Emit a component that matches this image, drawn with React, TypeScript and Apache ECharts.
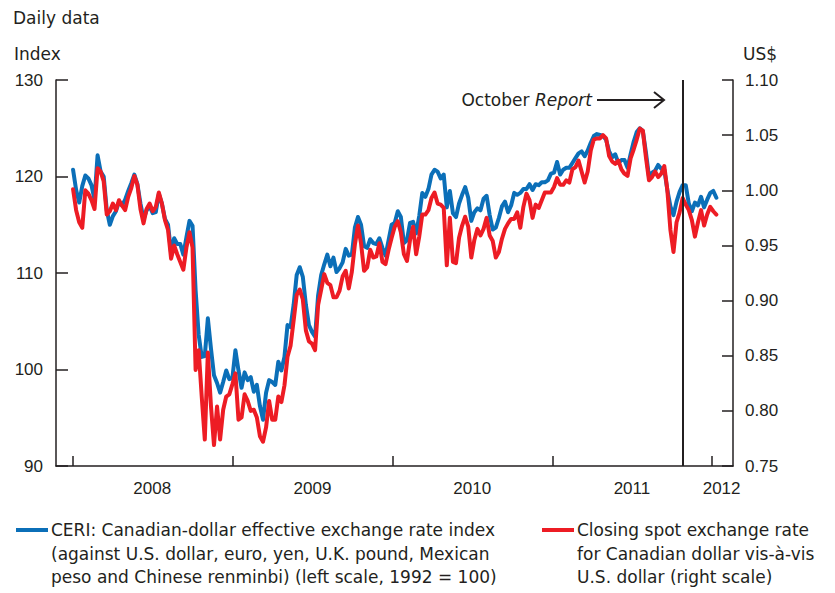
import React, { useEffect, useRef } from "react";
import * as echarts from "echarts";

// Weekly sampling dates
const dates: string[] = [
  "2008-01-02","2008-01-09","2008-01-16","2008-01-23","2008-01-30","2008-02-06","2008-02-13","2008-02-20","2008-02-27",
  "2008-03-05","2008-03-12","2008-03-19","2008-03-26","2008-04-02","2008-04-09","2008-04-16","2008-04-23","2008-04-30",
  "2008-05-07","2008-05-14","2008-05-21","2008-05-28","2008-06-04","2008-06-11","2008-06-18","2008-06-25","2008-07-02",
  "2008-07-09","2008-07-16","2008-07-23","2008-07-30","2008-08-06","2008-08-13","2008-08-20","2008-08-27","2008-09-03",
  "2008-09-10","2008-09-17","2008-09-24","2008-10-01","2008-10-08","2008-10-15","2008-10-22","2008-10-29","2008-11-05",
  "2008-11-12","2008-11-19","2008-11-26","2008-12-03","2008-12-10","2008-12-17","2008-12-24","2008-12-31",
  "2009-01-07","2009-01-14","2009-01-21","2009-01-28","2009-02-04","2009-02-11","2009-02-18","2009-02-25","2009-03-04",
  "2009-03-11","2009-03-18","2009-03-25","2009-04-01","2009-04-08","2009-04-15","2009-04-22","2009-04-29","2009-05-06",
  "2009-05-13","2009-05-20","2009-05-27","2009-06-03","2009-06-10","2009-06-17","2009-06-24","2009-07-01","2009-07-08",
  "2009-07-15","2009-07-22","2009-07-29","2009-08-05","2009-08-12","2009-08-19","2009-08-26","2009-09-02","2009-09-09",
  "2009-09-16","2009-09-23","2009-09-30","2009-10-07","2009-10-14","2009-10-21","2009-10-28","2009-11-04","2009-11-11",
  "2009-11-18","2009-11-25","2009-12-02","2009-12-09","2009-12-16","2009-12-23","2009-12-30",
  "2010-01-06","2010-01-13","2010-01-20","2010-01-27","2010-02-03","2010-02-10","2010-02-17","2010-02-24","2010-03-03",
  "2010-03-10","2010-03-17","2010-03-24","2010-03-31","2010-04-07","2010-04-14","2010-04-21","2010-04-28","2010-05-05",
  "2010-05-12","2010-05-19","2010-05-26","2010-06-02","2010-06-09","2010-06-16","2010-06-23","2010-06-30","2010-07-07",
  "2010-07-14","2010-07-21","2010-07-28","2010-08-04","2010-08-11","2010-08-18","2010-08-25","2010-09-01","2010-09-08",
  "2010-09-15","2010-09-22","2010-09-29","2010-10-06","2010-10-13","2010-10-20","2010-10-27","2010-11-03","2010-11-10",
  "2010-11-17","2010-11-24","2010-12-01","2010-12-08","2010-12-15","2010-12-22","2010-12-29",
  "2011-01-05","2011-01-12","2011-01-19","2011-01-26","2011-02-02","2011-02-09","2011-02-16","2011-02-23","2011-03-02",
  "2011-03-09","2011-03-16","2011-03-23","2011-03-30","2011-04-06","2011-04-13","2011-04-20","2011-04-27","2011-05-04",
  "2011-05-11","2011-05-18","2011-05-25","2011-06-01","2011-06-08","2011-06-15","2011-06-22","2011-06-29","2011-07-06",
  "2011-07-13","2011-07-20","2011-07-27","2011-08-03","2011-08-10","2011-08-17","2011-08-24","2011-08-31","2011-09-07",
  "2011-09-14","2011-09-21","2011-09-28","2011-10-05","2011-10-12","2011-10-19","2011-10-26","2011-11-02","2011-11-09",
  "2011-11-16","2011-11-23","2011-11-30","2011-12-07","2011-12-14","2011-12-21","2011-12-28",
  "2012-01-04","2012-01-11"
];

// CERI index (left scale, 1992 = 100)
const ceri: number[] = [
  120.7,118.6,117.3,119.0,120.1,119.8,119.1,117.6,122.2,120.5,
  120.0,116.5,115.0,115.9,116.4,117.4,117.0,117.6,118.5,119.3,
  120.2,119.2,117.2,115.6,116.5,116.9,116.2,116.3,118.2,117.2,
  115.6,115.0,112.1,113.6,113.0,113.0,111.9,113.7,115.4,114.9,
  108.2,103.6,101.3,101.4,105.3,102.2,99.4,98.6,97.6,98.7,
  99.9,99.0,99.1,102.0,99.9,98.1,99.7,98.9,99.2,97.7,
  98.4,96.2,94.8,97.6,98.9,98.7,98.4,100.8,99.9,101.3,
  104.6,104.4,106.7,109.8,110.6,109.6,106.7,104.6,103.9,103.4,
  107.7,109.8,110.9,111.9,110.7,111.6,110.1,110.5,111.1,112.5,
  111.8,111.9,114.7,115.8,115.0,112.8,112.6,113.5,113.1,113.0,
  113.6,112.6,111.8,113.4,115.0,115.2,116.4,115.8,113.1,113.4,
  115.2,115.3,114.1,115.9,118.3,117.9,118.7,120.2,120.7,120.5,
  119.8,120.2,116.8,118.5,116.2,115.8,117.2,118.1,118.9,117.8,
  115.4,116.3,116.7,116.5,117.7,118.0,116.0,114.5,114.7,115.7,
  116.9,117.4,116.3,117.0,118.3,118.1,118.3,118.7,118.7,119.2,
  118.6,119.2,119.1,119.4,119.4,119.6,120.3,120.4,121.5,120.2,
  120.7,120.9,120.9,121.4,121.9,122.4,122.6,122.1,122.7,123.5,
  124.2,124.4,124.3,124.2,123.8,122.6,122.0,122.3,121.4,121.7,
  121.7,120.9,122.3,123.6,124.6,125.0,124.7,122.5,120.0,120.4,
  120.6,121.2,120.8,120.7,118.6,116.9,116.0,117.4,118.4,119.1,
  119.1,117.2,116.4,117.3,117.0,117.9,116.8,117.6,118.3,118.5,117.8
];

// Closing spot rate, US$ per Canadian dollar (right scale)
const spot: number[] = [
  1.001,0.982,0.971,0.966,1.000,0.997,0.991,0.983,1.020,1.017,
  1.008,0.978,0.981,0.988,0.982,0.991,0.986,0.982,0.994,1.002,
  1.013,1.005,0.983,0.970,0.983,0.988,0.981,0.985,0.998,0.988,
  0.973,0.964,0.938,0.950,0.942,0.935,0.928,0.948,0.962,0.948,
  0.837,0.855,0.813,0.774,0.853,0.805,0.769,0.804,0.774,0.801,
  0.813,0.815,0.824,0.834,0.792,0.794,0.815,0.809,0.800,0.801,
  0.794,0.777,0.772,0.785,0.809,0.792,0.792,0.813,0.808,0.823,
  0.849,0.859,0.882,0.905,0.910,0.901,0.873,0.863,0.861,0.855,
  0.896,0.910,0.924,0.916,0.914,0.903,0.903,0.909,0.922,0.927,
  0.911,0.926,0.951,0.968,0.952,0.927,0.930,0.946,0.939,0.940,
  0.952,0.935,0.933,0.946,0.957,0.967,0.972,0.962,0.942,0.936,
  0.955,0.967,0.942,0.958,0.978,0.978,0.982,0.993,0.998,0.988,
  0.987,0.984,0.932,0.975,0.935,0.934,0.957,0.968,0.976,0.967,
  0.939,0.955,0.965,0.959,0.965,0.975,0.959,0.954,0.939,0.944,
  0.956,0.965,0.970,0.974,0.974,0.980,0.966,0.985,0.997,0.991,
  0.975,0.987,0.984,0.991,0.998,0.998,0.998,1.003,1.011,1.005,
  1.005,1.009,1.007,1.019,1.021,1.027,1.017,1.007,1.017,1.036,
  1.046,1.047,1.047,1.050,1.047,1.031,1.026,1.024,1.027,1.019,
  1.015,1.013,1.029,1.037,1.046,1.056,1.054,1.030,1.009,1.012,
  1.017,1.012,1.015,1.022,1.000,0.964,0.944,0.971,0.980,0.993,
  0.987,0.982,0.973,0.958,0.971,0.982,0.968,0.978,0.985,0.981,0.978
];

const yearTicks: string[] = ["2008-01-01", "2009-01-01", "2010-01-01", "2011-01-01", "2012-01-01"];
const yearLabelAt: string[] = ["2008-07-01", "2009-07-02", "2010-07-02", "2011-07-02", "2012-01-23"];
const xRange: string[] = ["2007-11-24", "2012-02-18"];
const reportDate = "2011-10-26";

const legendBlue: string[] = [
  "CERI: Canadian-dollar effective exchange rate index",
  "(against U.S. dollar, euro, yen, U.K. pound, Mexican",
  "peso and Chinese renminbi) (left scale, 1992 = 100)",
];
const legendRed: string[] = [
  "Closing spot exchange rate",
  "for Canadian dollar vis-à-vis",
  "U.S. dollar (right scale)",
];

const ts = (d: string) => Date.parse(d + "T00:00:00Z");

export default function App() {
  const ref = useRef<HTMLDivElement>(null);
  useEffect(() => {
    if (!ref.current) return;
    const chart = echarts.init(ref.current, null, { renderer: "svg" });
    const numFont = "'Liberation Sans', Arial, Helvetica, sans-serif";
    const wordFont = "'DejaVu Sans', 'Liberation Sans', Arial, sans-serif";
    const ink = "#231f20";
    const blue = "#0b6fb8";
    const red = "#ed1c24";
    const fs = 17;
    const lineY = [530, 553.5, 577];

    const txt = (text: string, x: number, y: number, align = "left") => ({
      type: "text",
      x,
      y,
      silent: true,
      style: {
        text,
        fill: ink,
        fontSize: fs,
        fontFamily: wordFont,
        textAlign: align,
        textVerticalAlign: "middle",
      },
    });

    const graphics: any[] = [
      txt("Daily data", 13, 18),
      txt("Index", 14, 54),
      txt("US$", 743, 54),
      {
        type: "text",
        x: 592,
        y: 100,
        silent: true,
        style: {
          text: "{n|October }{i|Report}",
          fill: ink,
          fontSize: fs,
          fontFamily: wordFont,
          textAlign: "right",
          textVerticalAlign: "middle",
          rich: {
            n: { fontSize: fs, fontFamily: wordFont, fill: ink },
            i: { fontSize: fs, fontFamily: wordFont, fill: ink, fontStyle: "italic" },
          },
        },
      },
      {
        type: "line",
        silent: true,
        shape: { x1: 597, y1: 100, x2: 664, y2: 100 },
        style: { stroke: ink, lineWidth: 2 },
      },
      {
        type: "polyline",
        silent: true,
        shape: { points: [[654, 92], [664, 100], [654, 108]] },
        style: { stroke: ink, lineWidth: 2, fill: null },
      },
      {
        type: "line",
        silent: true,
        shape: { x1: 16, y1: lineY[0], x2: 48, y2: lineY[0] },
        style: { stroke: blue, lineWidth: 4 },
      },
      {
        type: "line",
        silent: true,
        shape: { x1: 542, y1: lineY[0], x2: 574, y2: lineY[0] },
        style: { stroke: red, lineWidth: 4 },
      },
      ...legendBlue.map((t, i) => txt(t, 51, lineY[i])),
      ...legendRed.map((t, i) => txt(t, 577, lineY[i])),
    ];

    chart.setOption({
      animation: false,
      backgroundColor: "#ffffff",
      grid: { left: 56, right: 102, top: 80, bottom: 127, containLabel: false },
      xAxis: {
        type: "value",
        min: ts(xRange[0]),
        max: ts(xRange[1]),
        axisLine: { show: true, onZero: false, lineStyle: { color: ink, width: 1.5 } },
        axisTick: {
          show: true,
          inside: true,
          length: 10,
          customValues: yearTicks.map(ts),
          lineStyle: { color: ink, width: 1.5 },
        },
        axisLabel: {
          customValues: yearLabelAt.map(ts),
          formatter: (v: number) => String(new Date(v).getUTCFullYear()),
          color: ink,
          fontSize: fs,
          fontFamily: numFont,
          margin: 14,
          hideOverlap: false,
        },
        splitLine: { show: false },
      },
      yAxis: [
        {
          type: "value",
          position: "left",
          min: 90,
          max: 130,
          interval: 10,
          axisLine: { show: true, lineStyle: { color: ink, width: 1.5 } },
          axisTick: { show: true, inside: true, length: 12, lineStyle: { color: ink, width: 1.5 } },
          axisLabel: { color: ink, fontSize: fs, fontFamily: numFont, margin: 13 },
          splitLine: { show: false },
        },
        {
          type: "value",
          position: "right",
          min: 0.75,
          max: 1.1,
          interval: 0.05,
          axisLine: { show: true, lineStyle: { color: ink, width: 1.5 } },
          axisTick: { show: true, inside: true, length: 11, lineStyle: { color: ink, width: 1.5 } },
          axisLabel: {
            color: ink,
            fontSize: fs,
            fontFamily: numFont,
            margin: 12,
            formatter: (v: number) => v.toFixed(2),
          },
          splitLine: { show: false },
        },
      ],
      series: [
        {
          type: "line",
          name: "CERI",
          yAxisIndex: 0,
          data: dates.map((d, i) => [ts(d), ceri[i]]),
          showSymbol: false,
          symbol: "none",
          lineStyle: { color: blue, width: 4, join: "round", cap: "round" },
          z: 2,
        },
        {
          type: "line",
          name: "Spot",
          yAxisIndex: 1,
          data: dates.map((d, i) => [ts(d), spot[i]]),
          showSymbol: false,
          symbol: "none",
          lineStyle: { color: red, width: 4, join: "round", cap: "round" },
          z: 3,
          markLine: {
            silent: true,
            symbol: ["none", "none"],
            label: { show: false },
            lineStyle: { color: ink, width: 2, type: "solid" },
            data: [{ xAxis: ts(reportDate) }],
          },
        },
      ],
      graphic: graphics,
    });
    return () => chart.dispose();
  }, []);
  return (
    <div
      ref={ref}
      style={{ position: "absolute", left: 0, top: 0, width: 835, height: 593, background: "#fff" }}
    />
  );
}
